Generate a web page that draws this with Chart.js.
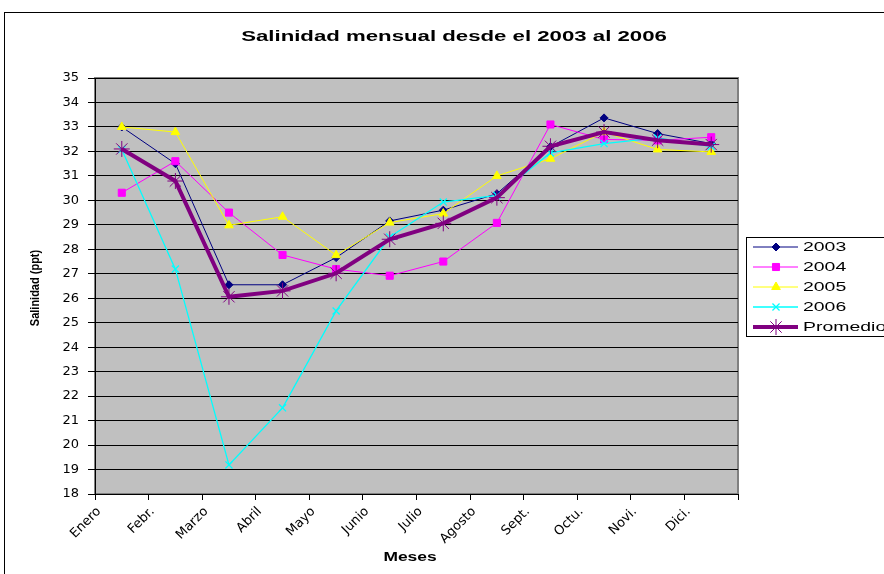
<!DOCTYPE html>
<html>
<head>
<meta charset="utf-8">
<title>Salinidad mensual</title>
<script src="https://cdn.jsdelivr.net/npm/chart.js@4.4.0/dist/chart.umd.min.js"></script>
<style>
    html, body { margin: 0; padding: 0; background: #fff; }
    canvas { display: block; }
</style>
</head>
<body>
<canvas id="salinity-chart" width="884" height="574"></canvas>
<script>
// Monthly salinity (ppt)
const meses = ['Enero', 'Febr.', 'Marzo', 'Abril', 'Mayo', 'Junio', 'Julio', 'Agosto', 'Sept.', 'Octu.', 'Novi.', 'Dici.'];
const sal2003 = [33.0, 31.5, 26.55, 26.55, 27.66, 29.16, 29.6, 30.27, 32.19, 33.37, 32.73, 32.32];
const sal2004 = [30.31, 31.6, 29.5, 27.77, 27.19, 26.92, 27.5, 29.08, 33.1, 32.49, 32.45, 32.58];
const sal2005 = [33.0, 32.79, 28.98, 29.33, 27.76, 29.09, 29.46, 31.0, 31.7, 32.79, 32.08, 31.98];
const sal2006 = [32.08, 27.19, 19.19, 21.52, 25.48, 28.5, 29.93, 30.2, 31.94, 32.32, 32.55, 32.2];
const promedio = [32.1, 30.79, 26.06, 26.3, 27.02, 28.41, 29.06, 30.11, 32.21, 32.79, 32.46, 32.28];
const yMin = 18;
const yMax = 35;

const SANS = '"Liberation Sans", Arial, sans-serif';
const TICK_FONT = '"DejaVu Sans", sans-serif';

// Excel puts the points between the category tick marks
function toPoints(values) {
    return values.map((v, i) => ({ x: i + 0.5, y: v }));
}

// The original picture is stretched sideways, so text is drawn wider than its font
function wideText(ctx, text, x, y, sx, align) {
    ctx.save();
    ctx.translate(x, y);
    ctx.scale(sx, 1);
    ctx.textAlign = align;
    ctx.textBaseline = 'middle';
    ctx.fillText(text, 0, 0);
    ctx.restore();
}

const framePlugin = {
    id: 'frame',
    beforeDraw(chart) {
        const { ctx, chartArea: a } = chart;
        ctx.save();
        ctx.fillStyle = '#fff';
        ctx.fillRect(0, 0, chart.width, chart.height);
        // outer chart border (runs off the right/bottom edge)
        ctx.strokeStyle = '#000';
        ctx.lineWidth = 1;
        ctx.strokeRect(4.5, 12.5, 1000, 1000);
        // plot area
        ctx.fillStyle = '#c0c0c0';
        ctx.fillRect(a.left, a.top, a.right - a.left, a.bottom - a.top);
        ctx.strokeStyle = '#808080';
        ctx.lineWidth = 2;
        ctx.strokeRect(a.left, a.top, a.right - a.left, a.bottom - a.top);
        ctx.restore();
    },
    afterDraw(chart) {
        const { ctx } = chart;
        ctx.save();
        ctx.fillStyle = '#000';

        // chart title
        ctx.font = 'bold 15px ' + SANS;
        wideText(ctx, 'Salinidad mensual desde el 2003 al 2006', 454, 37, 1.48, 'center');

        // axis titles
        ctx.font = 'bold 12px ' + SANS;
        wideText(ctx, 'Meses', 410, 558, 1.45, 'center');

        ctx.save();
        ctx.translate(35, 288);
        ctx.rotate(-Math.PI / 2);
        ctx.font = 'bold 11px ' + SANS;
        ctx.textAlign = 'center';
        ctx.textBaseline = 'middle';
        ctx.scale(1, 1.2);
        ctx.fillText('Salinidad (ppt)', 0, 0);
        ctx.restore();

        // legend box
        ctx.strokeStyle = '#000';
        ctx.lineWidth = 1;
        ctx.fillStyle = '#fff';
        ctx.fillRect(746.5, 237.5, 200, 99);
        ctx.strokeRect(746.5, 237.5, 200, 99);

        const rowY = [247, 267, 287, 307, 327];
        chart.data.datasets.forEach((ds, i) => {
            const y = rowY[i];
            ctx.strokeStyle = ds.borderColor;
            ctx.fillStyle = ds.backgroundColor;
            ctx.lineWidth = ds.borderWidth;
            ctx.beginPath();
            ctx.moveTo(753, y);
            ctx.lineTo(798, y);
            ctx.stroke();
            ctx.lineWidth = ds.pointBorderWidth;
            Chart.helpers.drawPoint(ctx, {
                pointStyle: ds.pointStyle,
                radius: ds.pointRadius,
                rotation: 0,
                borderWidth: ds.pointBorderWidth
            }, 776, y);
            ctx.fillStyle = '#000';
            ctx.font = '12px ' + SANS;
            wideText(ctx, ds.label, 803, y + 1, 1.62, 'left');
        });
        ctx.restore();
    }
};

const ctx = document.getElementById('salinity-chart').getContext('2d');
new Chart(ctx, {
    type: 'line',
    data: {
        datasets: [{
            label: '2003',
            data: toPoints(sal2003),
            borderColor: '#000080',
            backgroundColor: '#000080',
            borderWidth: 1,
            pointStyle: 'rectRot',
            pointRadius: 4,
            pointBorderWidth: 1,
            order: 5
        }, {
            label: '2004',
            data: toPoints(sal2004),
            borderColor: '#ff00ff',
            backgroundColor: '#ff00ff',
            borderWidth: 1,
            pointStyle: 'rect',
            pointRadius: 5,
            pointBorderWidth: 1,
            order: 4
        }, {
            label: '2005',
            data: toPoints(sal2005),
            borderColor: '#ffff00',
            backgroundColor: '#ffff00',
            borderWidth: 1,
            pointStyle: 'triangle',
            pointRadius: 5,
            pointBorderWidth: 1,
            order: 3
        }, {
            label: '2006',
            data: toPoints(sal2006),
            borderColor: '#00ffff',
            backgroundColor: '#00ffff',
            borderWidth: 1.3,
            pointStyle: 'crossRot',
            pointRadius: 5,
            pointBorderWidth: 1.3,
            order: 2
        }, {
            label: 'Promedio',
            data: toPoints(promedio),
            borderColor: '#800080',
            backgroundColor: '#800080',
            borderWidth: 4,
            pointStyle: 'star',
            pointRadius: 8,
            pointBorderWidth: 1,
            order: 1
        }]
    },
    options: {
        responsive: false,
        animation: false,
        events: [],
        layout: {
            padding: { left: 0, top: 78, right: 146, bottom: 0 }
        },
        plugins: {
            legend: { display: false },
            title: { display: false },
            tooltip: { enabled: false }
        },
        scales: {
            x: {
                type: 'linear',
                min: 0,
                max: meses.length,
                ticks: {
                    stepSize: 1,
                    autoSkip: false,
                    minRotation: 45,
                    maxRotation: 45,
                    color: '#000',
                    padding: 4,
                    labelOffset: 4,
                    font: { family: TICK_FONT, size: 13 },
                    callback: (v) => meses[v] || ''
                },
                grid: {
                    drawOnChartArea: false,
                    drawTicks: true,
                    tickLength: 6,
                    color: '#000'
                },
                border: { color: '#000', width: 1 },
                afterFit(scale) { scale.height = 80; }
            },
            y: {
                min: yMin,
                max: yMax,
                ticks: {
                    stepSize: 1,
                    color: '#000',
                    padding: 9,
                    font: { family: TICK_FONT, size: 13 }
                },
                grid: {
                    color: '#000',
                    lineWidth: 1,
                    tickLength: 7
                },
                border: { color: '#000', width: 1 },
                afterFit(scale) { scale.width = 95; }
            }
        }
    },
    plugins: [framePlugin]
});
</script>
</body>
</html>
